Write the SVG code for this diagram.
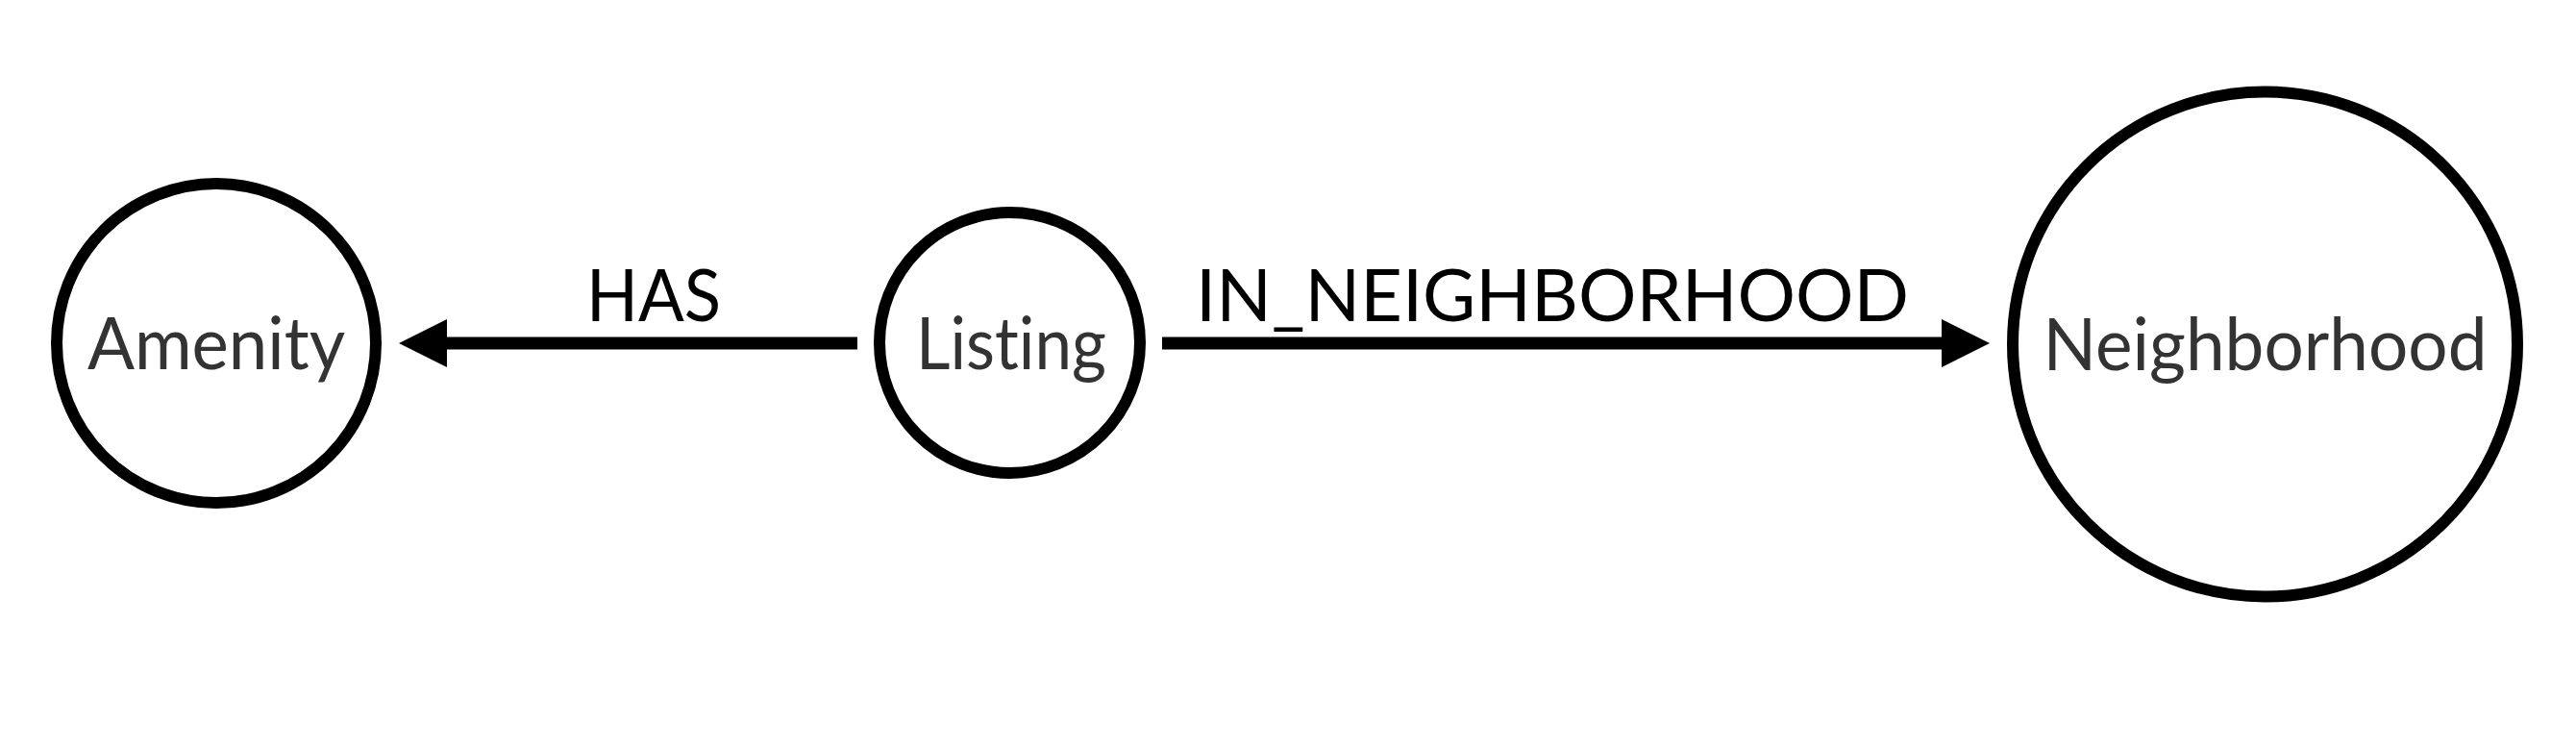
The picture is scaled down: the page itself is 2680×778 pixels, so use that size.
<svg xmlns="http://www.w3.org/2000/svg" width="2680" height="778" viewBox="0 0 2680 778">
<style>
.node circle{fill:#fff;stroke:#000;stroke-width:12}
.node text{font-family:Lato,"Open Sans","Liberation Sans",sans-serif;font-size:75px;fill:#333;text-anchor:middle;font-variant-ligatures:none}
.edge line{stroke:#000;stroke-width:13;stroke-linecap:butt}
.elabel{font-family:Lato,"Open Sans","Liberation Sans",sans-serif;font-size:75px;fill:#000;font-variant-ligatures:none}
</style>
<defs>
<marker id="arrow" viewBox="0 0 50 50" refX="0" refY="25" markerWidth="50" markerHeight="50" markerUnits="userSpaceOnUse" orient="auto">
<path d="M0,0 L50,25 L0,50 Z" fill="#000"/>
</marker>
</defs>
<rect width="2680" height="778" fill="#fff"/>
<g id="connectors">
<g class="edge" id="edge-has">
<line x1="892" y1="357" x2="465" y2="357" marker-end="url(#arrow)"/>
<text class="elabel" x="610" y="334" textLength="140" lengthAdjust="spacingAndGlyphs">HAS</text>
</g>
<g class="edge" id="edge-in-neighborhood">
<line x1="1209" y1="357" x2="2020" y2="357" marker-end="url(#arrow)"/>
<text class="elabel" x="1244" y="334" textLength="742" lengthAdjust="spacingAndGlyphs">IN_NEIGHBORHOOD</text>
</g>
</g>
<g class="node" id="node-amenity">
<circle cx="225" cy="357" r="166"/>
<text x="225" y="384" textLength="268" lengthAdjust="spacingAndGlyphs">Amenity</text>
</g>
<g class="node" id="node-listing">
<circle cx="1050.5" cy="356.5" r="135.5"/>
<text x="1052" y="384" textLength="198" lengthAdjust="spacingAndGlyphs">Listing</text>
</g>
<g class="node" id="node-neighborhood">
<circle cx="2356.5" cy="358" r="262.5"/>
<text x="2356.5" y="385" textLength="462" lengthAdjust="spacingAndGlyphs">Neighborhood</text>
</g>
</svg>
